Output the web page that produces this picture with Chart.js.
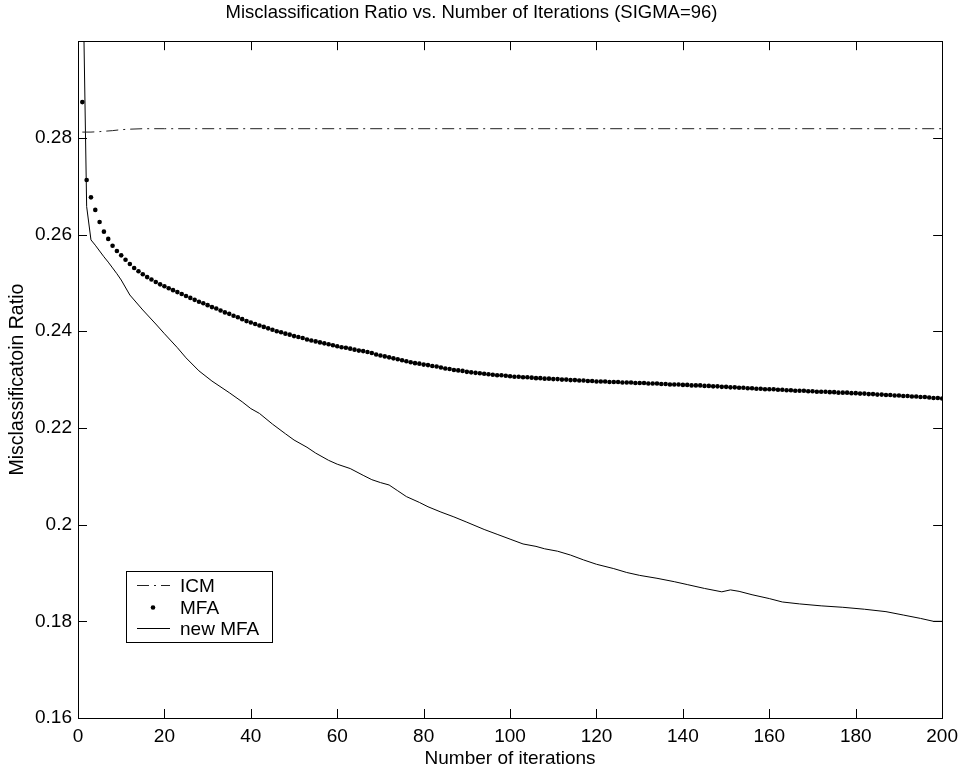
<!DOCTYPE html>
<html>
<head>
<meta charset="utf-8">
<script src="https://cdn.jsdelivr.net/npm/chart.js@4"></script>
<style>
  html, body { margin: 0; padding: 0; background: #fff; }
  #wrap { width: 965px; height: 773px; }
</style>
</head>
<body>
<div id="wrap"><canvas id="chart" width="965" height="773"></canvas></div>
<script>
// values
const xTicks = [0, 20, 40, 60, 80, 100, 120, 140, 160, 180, 200];
const yTicks = [0.16, 0.18, 0.2, 0.22, 0.24, 0.26, 0.28];

const icmIters = [1, 3, 5, 8, 10, 12, 15, 20, 200];
const icmValues = [0.2812, 0.2812, 0.2813, 0.2815, 0.2817, 0.2818, 0.2819, 0.2819, 0.2819];

// MFA: one dot per iteration, 1..200
const mfaValues = [
  0.2874, 0.2713, 0.2677, 0.2651, 0.2626, 0.2606, 0.2591, 0.2577, 0.2566, 0.2557,
  0.2548, 0.2539, 0.2531, 0.2524, 0.2518, 0.2512, 0.2507, 0.2502, 0.2497, 0.2493,
  0.2489, 0.2485, 0.2481, 0.2477, 0.2473, 0.2469, 0.2465, 0.2461, 0.2458, 0.2454,
  0.2450, 0.2447, 0.2443, 0.2439, 0.2436, 0.2432, 0.2429, 0.2425, 0.2421, 0.2418,
  0.2415, 0.2412, 0.2409, 0.2406, 0.2403, 0.2400, 0.2398, 0.2395, 0.2393, 0.2390,
  0.2388, 0.2386, 0.2383, 0.2381, 0.2379, 0.2377, 0.2375, 0.2373, 0.2371, 0.2369,
  0.2367, 0.2366, 0.2364, 0.2362, 0.2360, 0.2359, 0.2357, 0.2355, 0.2352, 0.2350,
  0.2348, 0.2346, 0.2344, 0.2342, 0.2340, 0.2338, 0.2336, 0.2334, 0.2333, 0.2331,
  0.2330, 0.2328, 0.2327, 0.2325, 0.2323, 0.2322, 0.2320, 0.2319, 0.2318, 0.2316,
  0.2315, 0.2314, 0.2313, 0.2312, 0.2311, 0.2310, 0.2309, 0.2309, 0.2308, 0.2307,
  0.2306, 0.2306, 0.2305, 0.2305, 0.2304, 0.2303, 0.2303, 0.2302, 0.2302, 0.2301,
  0.2301, 0.2300, 0.2300, 0.2299, 0.2299, 0.2298, 0.2298, 0.2297, 0.2297, 0.2296,
  0.2296, 0.2296, 0.2295, 0.2295, 0.2295, 0.2294, 0.2294, 0.2294, 0.2293, 0.2293,
  0.2293, 0.2292, 0.2292, 0.2292, 0.2291, 0.2291, 0.2290, 0.2290, 0.2290, 0.2289,
  0.2289, 0.2288, 0.2288, 0.2288, 0.2287, 0.2287, 0.2286, 0.2286, 0.2285, 0.2285,
  0.2284, 0.2284, 0.2283, 0.2283, 0.2282, 0.2282, 0.2281, 0.2281, 0.2280, 0.2280,
  0.2280, 0.2279, 0.2279, 0.2278, 0.2278, 0.2277, 0.2277, 0.2277, 0.2276, 0.2276,
  0.2275, 0.2275, 0.2275, 0.2274, 0.2274, 0.2273, 0.2273, 0.2273, 0.2272, 0.2272,
  0.2271, 0.2271, 0.2270, 0.2270, 0.2269, 0.2269, 0.2268, 0.2268, 0.2267, 0.2267,
  0.2266, 0.2266, 0.2265, 0.2265, 0.2264, 0.2264, 0.2263, 0.2262, 0.2262, 0.2261
];

const newMfaIters = [
  1, 2, 3, 4, 5, 6, 7, 8, 9, 10, 12, 15, 18, 20, 23, 25, 28, 31, 35, 38,
  40, 42, 45, 48, 50, 53, 55, 58, 60, 63, 66, 68, 70, 72, 74, 76, 79, 81, 84, 87,
  90, 94, 97, 100, 103, 106, 108, 111, 114, 117, 120, 124, 127, 130, 134, 138, 141, 145, 149, 151,
  153, 156, 160, 163, 167, 172, 177, 182, 187, 191, 195, 198, 200
];
const newMfaValues = [
  0.3217, 0.2658, 0.2589, 0.2578, 0.2566, 0.2554, 0.2543, 0.2531, 0.2519, 0.2506,
  0.2475, 0.2444, 0.2415, 0.2395, 0.2366, 0.2345, 0.2318, 0.2297, 0.2273, 0.2254,
  0.2240, 0.2230, 0.2208, 0.2188, 0.2175, 0.2160, 0.2148, 0.2133, 0.2125, 0.2116,
  0.2102, 0.2093, 0.2087, 0.2082, 0.2070, 0.2058, 0.2046, 0.2037, 0.2026, 0.2016,
  0.2005, 0.1990, 0.1980, 0.1970, 0.1960, 0.1955, 0.1950, 0.1945, 0.1937, 0.1927,
  0.1918, 0.1909, 0.1901, 0.1895, 0.1889, 0.1882, 0.1876, 0.1868, 0.1861, 0.1865,
  0.1862, 0.1855, 0.1847, 0.1840, 0.1836, 0.1832, 0.1829, 0.1825, 0.1820, 0.1813,
  0.1806, 0.1800, 0.1800
];

const FONT = "'Liberation Sans', Arial, Helvetica, sans-serif";

const toXY = (xs, ys) => ys.map((y, i) => ({ x: xs[i], y: y }));

// box frame with inward ticks on all four sides
const framePlugin = {
  id: "frame",
  afterDatasetsDraw(chart) {
    const { ctx, chartArea: a, scales } = chart;
    const len = 9;
    ctx.save();
    ctx.strokeStyle = "#000";
    ctx.lineWidth = 1;
    ctx.beginPath();
    xTicks.forEach((v) => {
      const px = Math.round(scales.x.getPixelForValue(v)) + 0.5;
      ctx.moveTo(px, a.bottom);
      ctx.lineTo(px, a.bottom - len);
      ctx.moveTo(px, a.top);
      ctx.lineTo(px, a.top + len);
    });
    yTicks.forEach((v) => {
      const py = Math.round(scales.y.getPixelForValue(v)) + 0.5;
      ctx.moveTo(a.left, py);
      ctx.lineTo(a.left + len, py);
      ctx.moveTo(a.right, py);
      ctx.lineTo(a.right - len, py);
    });
    ctx.stroke();
    ctx.strokeRect(Math.round(a.left) + 0.5, Math.round(a.top) + 0.5,
      Math.round(a.right - a.left), Math.round(a.bottom - a.top));
    ctx.restore();
  },
};

// legend box drawn inside the plot, lower left
const boxLegend = {
  id: "boxLegend",
  afterDraw(chart) {
    const { ctx, chartArea: a } = chart;
    const left = a.left + 48;
    const top = a.bottom - 147;
    const w = 146;
    const h = 71;
    const rowH = 21.6;
    ctx.save();
    ctx.fillStyle = "#fff";
    ctx.fillRect(left, top, w, h);
    ctx.strokeStyle = "#000";
    ctx.lineWidth = 1;
    ctx.strokeRect(left + 0.5, top + 0.5, w, h);
    ctx.font = "19px " + FONT;
    ctx.textBaseline = "middle";
    chart.data.datasets.forEach((ds, i) => {
      const cy = Math.round(top + 14 + i * rowH) + 0.5;
      ctx.strokeStyle = ds.borderColor;
      ctx.fillStyle = "#000";
      if (ds.showLine === false) {
        ctx.beginPath();
        ctx.arc(left + 27, cy, ds.pointRadius, 0, Math.PI * 2);
        ctx.fill();
      } else {
        ctx.setLineDash(ds.borderDash || []);
        ctx.lineWidth = ds.borderWidth;
        ctx.beginPath();
        ctx.moveTo(left + 11, cy);
        ctx.lineTo(left + 44, cy);
        ctx.stroke();
        ctx.setLineDash([]);
      }
      ctx.fillText(ds.label, left + 54, cy + 1);
    });
    ctx.restore();
  },
};

new Chart(document.getElementById("chart"), {
  type: "line",
  data: {
    datasets: [
      {
        label: "ICM",
        data: toXY(icmIters, icmValues),
        borderColor: "#222",
        borderWidth: 1,
        borderDash: [12, 5, 2, 5],
        pointRadius: 0,
        tension: 0,
      },
      {
        label: "MFA",
        data: toXY(mfaValues.map((_, i) => i + 1), mfaValues),
        borderColor: "#000",
        backgroundColor: "#000",
        showLine: false,
        pointRadius: 2.3,
        pointBorderWidth: 0,
      },
      {
        label: "new MFA",
        data: toXY(newMfaIters, newMfaValues),
        borderColor: "#000",
        borderWidth: 1,
        pointRadius: 0,
        tension: 0,
      },
    ],
  },
  options: {
    responsive: false,
    animation: false,
    events: [],
    layout: { padding: { left: 0, right: 22, top: 0, bottom: 0 } },
    plugins: {
      legend: { display: false },
      tooltip: { enabled: false },
      title: {
        display: true,
        text: "Misclassification Ratio vs. Number of Iterations (SIGMA=96)",
        color: "#000",
        font: { family: FONT, size: 18.5, weight: "normal" },
        padding: { top: 2, bottom: 17 },
      },
    },
    scales: {
      x: {
        type: "linear",
        min: 0,
        max: 200,
        afterFit: (scale) => { scale.height = 55; },
        afterBuildTicks: (scale) => { scale.ticks = xTicks.map((v) => ({ value: v })); },
        grid: { display: false, drawTicks: false },
        border: { display: false },
        ticks: {
          color: "#000",
          padding: 7,
          maxRotation: 0,
          font: { family: FONT, size: 19 },
        },
        title: {
          display: true,
          text: "Number of iterations",
          color: "#000",
          font: { family: FONT, size: 19 },
          padding: { top: 0, bottom: 3 },
        },
      },
      y: {
        type: "linear",
        min: 0.16,
        max: 0.3,
        afterFit: (scale) => { scale.width = 78; },
        afterBuildTicks: (scale) => { scale.ticks = yTicks.map((v) => ({ value: v })); },
        grid: { display: false, drawTicks: false },
        border: { display: false },
        ticks: {
          color: "#000",
          padding: 6,
          font: { family: FONT, size: 19 },
          callback: (v) => String(+v.toFixed(2)),
        },
        title: {
          display: true,
          text: "Misclassificatoin Ratio",
          color: "#000",
          font: { family: FONT, size: 19.5 },
          padding: { top: 6, bottom: 0 },
        },
      },
    },
  },
  plugins: [framePlugin, boxLegend],
});
</script>
</body>
</html>
